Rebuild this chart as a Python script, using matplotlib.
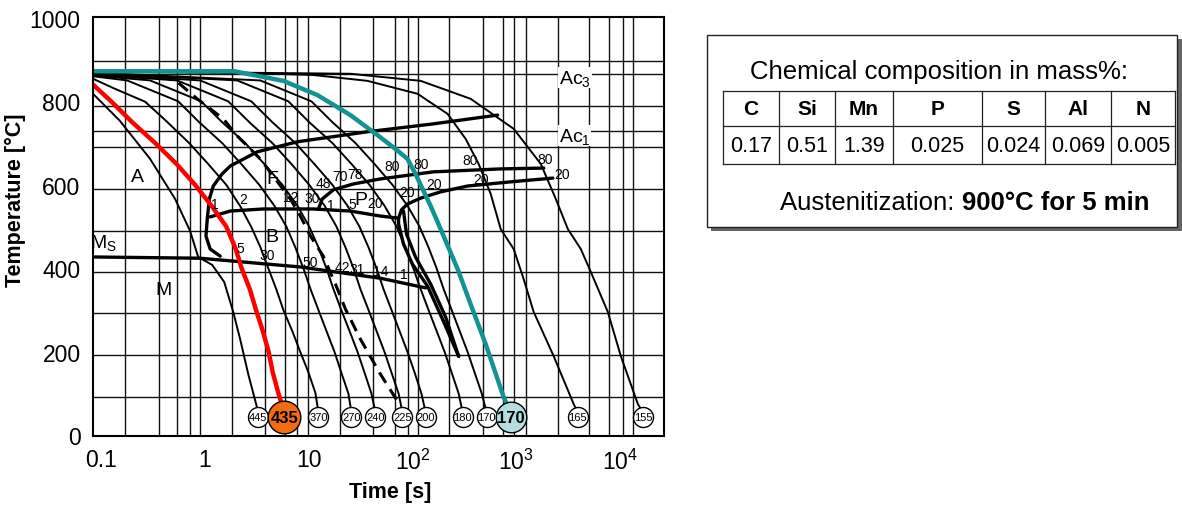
import matplotlib
matplotlib.use("Agg")
import matplotlib.pyplot as plt
from matplotlib.patches import Rectangle

plt.rcParams['font.family'] = ['Liberation Sans', 'DejaVu Sans']
plt.rcParams['mathtext.fontset'] = 'custom'
plt.rcParams['mathtext.rm'] = 'Liberation Sans'
plt.rcParams['mathtext.it'] = 'Liberation Sans:italic'
plt.rcParams['mathtext.bf'] = 'Liberation Sans:bold'
NARROW = ['Liberation Sans Narrow', 'Liberation Sans', 'DejaVu Sans']

# ---- cooling curves: time [s], temperature [°C] ----
c445_t = [0.083, 0.151, 0.295, 0.514, 0.718, 0.858, 1.17, 1.53, 1.87, 2.18, 2.61, 3.26]
c445_T = [818, 753, 662, 566, 489, 427, 408, 367, 295, 230, 146, 55]

red_t = [0.083, 0.124, 0.198, 0.33, 0.53, 0.80, 1.15, 1.6, 1.95, 2.1, 2.25, 2.7, 3.1, 3.6, 4.1, 4.5, 5.1, 5.8]
red_T = [840, 800, 750, 700, 650, 600, 550, 500, 450, 425, 400, 350, 300, 250, 200, 150, 100, 55]

c370_t = [0.083, 0.135, 0.264, 0.421, 0.702, 1.07, 1.60, 2.18, 2.79, 3.41, 4.07, 4.86, 5.69, 6.95, 8.30, 9.91, 11.6, 12.4]
c370_T = [854, 830, 799, 753, 700, 650, 600, 549, 499, 451, 400, 350, 300, 249, 199, 151, 101, 55]

c270_t = [0.083, 0.177, 0.550, 0.877, 1.46, 2.23, 3.33, 4.65, 6.08, 7.42, 8.87, 10.4, 12.4, 14.8, 17.7, 20.6, 24.1, 25.8]
c270_T = [860, 850, 800, 750, 700, 650, 600, 550, 500, 450, 400, 350, 300, 250, 200, 150, 100, 55]

c240_t = [0.083, 0.295, 0.917, 1.46, 2.44, 3.72, 5.56, 7.76, 10.1, 12.4, 14.8, 17.3, 20.6, 24.7, 29.5, 34.5, 40.2, 44.0]
c240_T = [862, 850, 800, 750, 700, 650, 600, 550, 500, 450, 400, 350, 300, 250, 200, 150, 100, 55]

c225_t = [0.083, 0.537, 1.67, 2.67, 4.45, 6.79, 10.1, 14.2, 18.5, 22.6, 27.0, 31.5, 37.7, 45.0, 53.7, 62.8, 73.5, 80.1]
c225_T = [864, 850, 800, 750, 700, 650, 600, 550, 500, 450, 400, 350, 300, 250, 200, 150, 100, 55]

c200_t = [0.083, 0.897, 2.79, 4.45, 7.42, 11.3, 16.9, 23.6, 30.8, 37.7, 45.0, 52.6, 62.8, 75.0, 89.5, 105, 122, 134]
c200_T = [866, 850, 800, 750, 700, 650, 600, 550, 500, 450, 400, 350, 300, 250, 200, 150, 100, 55]

c180_t = [0.083, 2.04, 6.35, 10.1, 16.9, 25.8, 38.5, 53.7, 70.2, 85.7, 102, 120, 143, 171, 204, 239, 279, 305]
c180_T = [868, 850, 800, 750, 700, 650, 600, 550, 500, 450, 400, 350, 300, 250, 200, 150, 100, 55]

c170_t = [0.083, 3.41, 10.6, 16.9, 28.2, 43.0, 64.1, 89.5, 117, 143, 171, 200, 239, 285, 340, 398, 466, 520]
c170_T = [869, 850, 800, 750, 700, 650, 600, 550, 500, 450, 400, 350, 300, 250, 200, 150, 100, 55]

cyan_t = [0.083, 1.91, 5.69, 12.1, 25.2, 46.0, 68.5, 89.5, 107, 150, 187, 273, 364, 509, 759, 830]
cyan_T = [872, 872, 849, 815, 767, 719, 686, 662, 626, 549, 494, 398, 314, 218, 91, 70]

c165_t = [0.083, 2.73, 11.1, 36.8, 112, 218, 326, 435, 569, 710, 948, 1183, 1479, 2307, 3600, 3934]
c165_T = [871, 868, 863, 849, 818, 770, 710, 650, 578, 494, 446, 374, 295, 189, 74, 55]

c155_t = [0.083, 25.2, 120, 364, 948, 1730, 2415, 3155, 4207, 5260, 7674, 10250, 14970, 16700]
c155_T = [872, 866, 849, 806, 734, 650, 566, 494, 446, 391, 295, 189, 74, 55]

dash_t = [0.368, 0.537, 0.839, 1.50, 2.04, 3.41, 4.76, 6.64, 8.30, 10.4, 13.8, 18.1, 22.6, 31.5, 49.2, 76.7]
dash_T = [861, 847, 806, 758, 717, 662, 614, 566, 525, 477, 429, 362, 302, 230, 146, 70]

# ---- transformation lines ----
fs_t = [1.40, 1.12, 1.02, 1.05, 1.10, 1.20, 1.46, 1.75, 3.19, 7.76, 36.8, 160, 663]
fs_T = [429, 446, 477, 518, 566, 597, 626, 645, 679, 703, 727, 746, 767]
bs_t = [1.12, 1.75, 3.64, 11.1, 25.2, 49.2, 73.5]
bs_T = [523, 537, 542, 542, 537, 525, 520]
pf_t = [73.5, 78.5, 89.7, 120, 187, 340, 887, 2259]
pf_T = [520, 540, 554, 568, 583, 597, 607, 616]
ps_t = [12.4, 13.5, 17.3, 27.0, 49.2, 160, 710, 1849]
ps_T = [542, 566, 588, 602, 614, 631, 638, 640]
be1_t = [73.5, 73.5, 82.0, 100, 140, 195, 279]
be1_T = [520, 506, 458, 410, 357, 278, 189]
be2_t = [82.0, 87.7, 107, 150, 209, 279]
be2_T = [537, 482, 427, 362, 283, 189]
ms_t = [0.083, 0.897, 8.30, 49.2, 134]
ms_T = [427, 424, 403, 376, 353]

# grid of the original diagram
grid_t = [0.169, 0.360, 0.537, 0.718, 0.897, 1.83, 3.81, 5.94, 7.76, 9.91, 20.2, 42.1, 67.2,
          89.7, 112, 223, 476, 742, 948, 1238, 2524, 5024, 7838, 10720, 13400]
grid_T = [91, 192, 293, 391, 489, 590, 691, 789, 897]
ac3_T = 866
ac1_T = 729

# hardness (HV) at the end of each cooling curve
hv_t = [3.26, 5.81, 12.4, 25.8, 44.0, 80.1, 134, 305, 520, 887, 3934, 16700]
hv_labels = ['445', '435', '370', '270', '240', '225', '200', '180', '170', '170', '165', '155']
hv_T = 43

# chemical composition
elements = ['C', 'Si', 'Mn', 'P', 'S', 'Al', 'N']
mass_pct = ['0.17', '0.51', '1.39', '0.025', '0.024', '0.069', '0.005']

fig = plt.figure(figsize=(11.82, 5.06), dpi=100)
fig.patch.set_facecolor('white')
ax = fig.add_axes([93 / 1182, 69 / 506, 571 / 1182, 419 / 506])
ax.set_xscale('log')
ax.set_xlim(0.083, 26700)
ax.set_ylim(-2, 1002)

for t in grid_t:
    ax.axvline(t, color='#111111', lw=1.0, zorder=1)
for T in grid_T + [ac3_T, ac1_T]:
    ax.axhline(T, color='#111111', lw=1.0, zorder=1)

for t, T in [(c445_t, c445_T), (c370_t, c370_T), (c270_t, c270_T), (c240_t, c240_T),
             (c225_t, c225_T), (c200_t, c200_T), (c180_t, c180_T), (c170_t, c170_T),
             (c165_t, c165_T), (c155_t, c155_T)]:
    ax.plot(t, T, color='black', lw=1.4, zorder=2)
ax.plot(dash_t, dash_T, color='black', lw=2.2, ls=(0, (4, 2.5)), zorder=2)

for t, T in [(fs_t, fs_T), (bs_t, bs_T), (pf_t, pf_T), (ps_t, ps_T),
             (be1_t, be1_T), (be2_t, be2_T), (ms_t, ms_T)]:
    ax.plot(t, T, color='black', lw=2.4, zorder=3, solid_capstyle='round')

ax.plot(red_t, red_T, color='#ff0000', lw=3.2, zorder=4)
ax.plot(cyan_t, cyan_T, color='#129292', lw=3.2, zorder=4)

# hardness circles
for i, (t, lab) in enumerate(zip(hv_t, hv_labels)):
    if i == 1:
        ax.plot(t, hv_T, 'o', ms=23.5, mfc='#f26b0f', mec='black', mew=1.0, zorder=7)
        ax.text(t, hv_T, lab, fontsize=12, fontweight='bold', ha='center', va='center', zorder=8)
    elif i == 9:
        ax.plot(t, hv_T, 'o', ms=22, mfc='#b4dde0', mec='black', mew=1.0, zorder=7)
        ax.text(t, hv_T, lab, fontsize=12, fontweight='bold', ha='center', va='center', zorder=8)
    else:
        ax.plot(t, hv_T, 'o', ms=14.4, mfc='white', mec='black', mew=1.0, zorder=5)
        ax.text(t, hv_T, lab, fontsize=8, family=NARROW, ha='center', va='center', zorder=6)

# phase labels
big = dict(fontsize=14, family=NARROW, ha='center', va='center', zorder=6)
ax.text(0.221, 621, 'A', **big)
ax.text(4.45, 614, 'F', **big)
ax.text(4.45, 477, 'B', **big)
ax.text(0.394, 348, 'M', **big)
ax.text(0.104, 462, r'$\mathrm{M_S}$', fontsize=14, ha='center', va='center', zorder=6)
ax.text(38.0, 565, r'$\mathrm{P_{20}}$', fontsize=14, ha='center', va='center', zorder=6)
ax.text(2581, 857, r'$\mathrm{Ac_3}$', fontsize=14, ha='left', va='center', zorder=6,
        bbox=dict(fc='white', ec='none', pad=0.5))
ax.text(2581, 718, r'$\mathrm{Ac_1}$', fontsize=14, ha='left', va='center', zorder=6,
        bbox=dict(fc='white', ec='none', pad=0.5))

small = dict(fontsize=10, family=NARROW, ha='center', va='center', zorder=6)
for t, T, s in [(1.25, 554, '1'), (2.33, 566, '2'), (6.64, 571, '12'), (10.8, 568, '30'),
                (13.8, 605, '48'), (20.2, 621, '70'), (28.2, 625, '78'),
                (16.2, 551, '1'), (26.4, 554, '5'),
                (64.3, 645, '80'), (120, 650, '80'), (364, 659, '80'), (1888, 662, '80'),
                (89.7, 583, '20'), (160, 602, '20'), (455, 614, '20'), (2762, 626, '20'),
                (2.18, 448, '5'), (3.98, 432, '30'), (10.4, 415, '50'), (21.1, 403, '42'),
                (29.5, 398, '31'), (49.2, 393, '14'), (82.0, 386, '1')]:
    ax.text(t, T, s, **small)

ax.set_xticks([0.1, 1, 10, 100, 1000, 10000])
ax.set_xticklabels(['0.1', '1', '10', r'$10^2$', r'$10^3$', r'$10^4$'])
ax.minorticks_off()
ax.set_yticks([0, 200, 400, 600, 800, 1000])
ax.tick_params(length=0, labelsize=16.5)
ax.tick_params(axis='y', pad=9)
ax.tick_params(axis='x', pad=9)
for lab in ax.get_xticklabels() + ax.get_yticklabels():
    lab.set_family(NARROW)
for sp in ax.spines.values():
    sp.set_linewidth(1.5)
    sp.set_zorder(9)

ax.set_xlabel('Time [s]', fontsize=15.5, fontweight='bold')
ax.xaxis.set_label_coords(0.52, -0.108)
ax.set_ylabel('Temperature [°C]', fontsize=15.5, fontweight='bold')
ax.yaxis.set_label_coords(-0.117, 0.566)

# ---- right panel: composition box ----
pan = fig.add_axes([0, 0, 1, 1], zorder=-1)
pan.set_xlim(0, 1182)
pan.set_ylim(506, 0)
pan.axis('off')
pan.add_patch(Rectangle((711, 40), 471, 192, facecolor='#666666', edgecolor='none'))
pan.add_patch(Rectangle((707, 36), 470, 192, facecolor='white', edgecolor='#222222', lw=1.0))
pan.text(939, 72, 'Chemical composition in mass%:', fontsize=18.5, ha='center', va='center')

col_edges = [723, 779, 835, 893, 982, 1045, 1111, 1175]
row_edges = [92, 127, 165]
for y in row_edges:
    pan.plot([col_edges[0], col_edges[-1]], [y, y], color='#222222', lw=0.9)
for x in col_edges:
    pan.plot([x, x], [row_edges[0], row_edges[-1]], color='#222222', lw=0.9)
for i, (el, v) in enumerate(zip(elements, mass_pct)):
    xc = (col_edges[i] + col_edges[i + 1]) / 2
    pan.text(xc, 109, el, fontsize=15, fontweight='bold', family=NARROW, ha='center', va='center')
    pan.text(xc, 146, v, fontsize=15.5, ha='center', va='center')

t1 = pan.text(780, 203, 'Austenitization: ', fontsize=18.5, ha='left', va='center')
pan.annotate('900°C for 5 min', xy=(1, 0), xycoords=t1, fontsize=18.5, fontweight='bold',
             ha='left', va='bottom')

fig.savefig('out.png', dpi=100)
